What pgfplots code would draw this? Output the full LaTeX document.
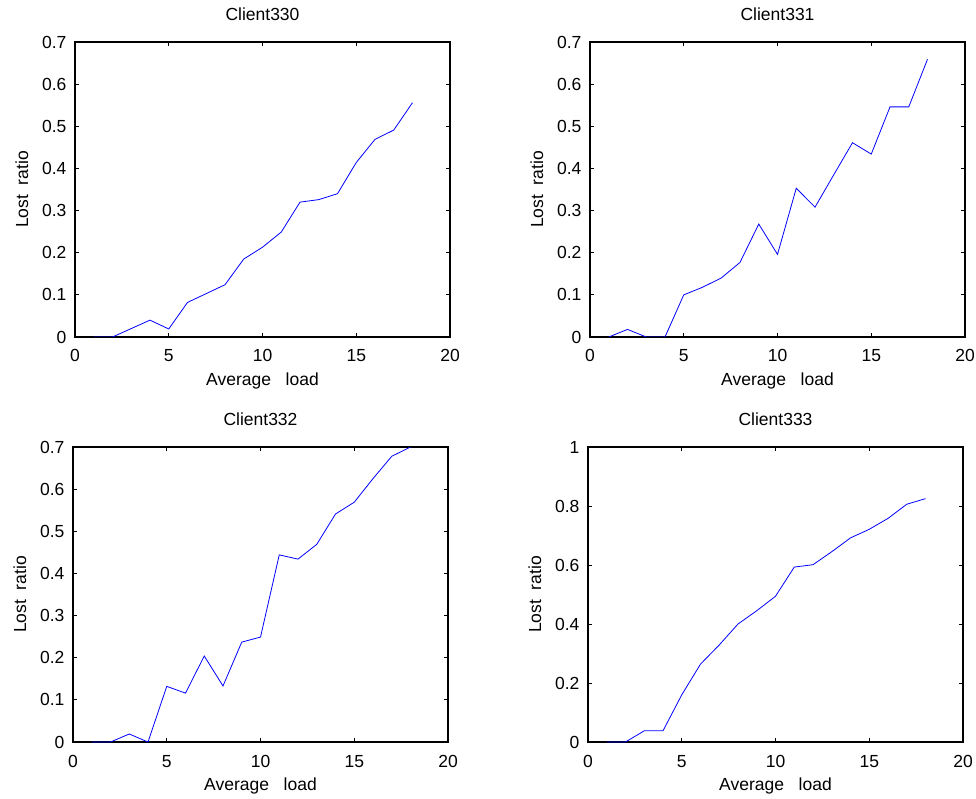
\documentclass[border=0pt]{standalone}
\usepackage{pgfplots}
\pgfplotsset{compat=1.18}
\usepackage{fontspec}
\setmainfont{Liberation Sans}
\pgfplotsset{
  panel/.style={
    anchor=south west, scale only axis, width=375pt, height=295pt,
    xmin=0, xmax=20, xtick={0,5,10,15,20},
    tick align=inside, major tick length=4pt,
    axis line style={line width=1.1pt}, every tick/.style={black, line width=0.8pt},
    /pgf/number format/assume math mode=true,
    /pgf/number format/fixed,
    font=\fontsize{17.5}{20}\selectfont,
    xticklabel style={anchor=base, yshift=-25pt},
    yticklabel style={xshift=-5pt},
    title style={at={(axis description cs:0.5,1.054)}, anchor=base},
    xlabel style={at={(axis description cs:0.5,-0.166)}, anchor=base},
    ylabel style={at={(axis description cs:-0.1253,0.5)}, anchor=base, rotate=0},
    xlabel={Average\ \ \ load}, ylabel={Lost\ \ ratio},
    clip=true,
  },
  small/.style={ymin=0, ymax=0.7, ytick={0,0.1,0.2,0.3,0.4,0.5,0.6,0.7}},
  big/.style={ymin=0, ymax=1, ytick={0,0.2,0.4,0.6,0.8,1}},
  ser/.style={blue, line width=0.8pt, mark=none},
}
\begin{document}
\begin{tikzpicture}
\useasboundingbox (0,0) rectangle (976pt,798pt);
\begin{axis}[panel, small, at={(75pt,461pt)}, title={Client330}]
\addplot[ser] coordinates {(1,0) (2,0) (3,0.02) (4,0.04) (5,0.019) (6,0.082) (7,0.103) (8,0.124) (9,0.185) (10,0.213) (11,0.249) (12,0.320) (13,0.326) (14,0.340) (15,0.414) (16,0.469) (17,0.491) (18,0.556)};
\end{axis}
\begin{axis}[panel, small, at={(590pt,461pt)}, title={Client331}]
\addplot[ser] coordinates {(1,0) (2,0.018) (3,0) (4,0) (5,0.1) (6,0.118) (7,0.14) (8,0.177) (9,0.268) (10,0.196) (11,0.353) (12,0.308) (13,0.385) (14,0.461) (15,0.434) (16,0.546) (17,0.546) (18,0.659)};
\end{axis}
\begin{axis}[panel, small, at={(73pt,56pt)}, title={Client332}]
\addplot[ser] coordinates {(1,0) (2,0) (3,0.019) (4,0) (5,0.132) (6,0.116) (7,0.204) (8,0.133) (9,0.237) (10,0.249) (11,0.444) (12,0.434) (13,0.469) (14,0.541) (15,0.569) (16,0.625) (17,0.678) (18,0.70)};
\end{axis}
\begin{axis}[panel, big, at={(588pt,56pt)}, title={Client333}]
\addplot[ser] coordinates {(1,0) (2,0) (3,0.038) (4,0.038) (5,0.16) (6,0.264) (7,0.329) (8,0.40) (9,0.445) (10,0.494) (11,0.593) (12,0.601) (13,0.645) (14,0.692) (15,0.721) (16,0.758) (17,0.806) (18,0.825)};
\end{axis}
\end{tikzpicture}
\end{document}
